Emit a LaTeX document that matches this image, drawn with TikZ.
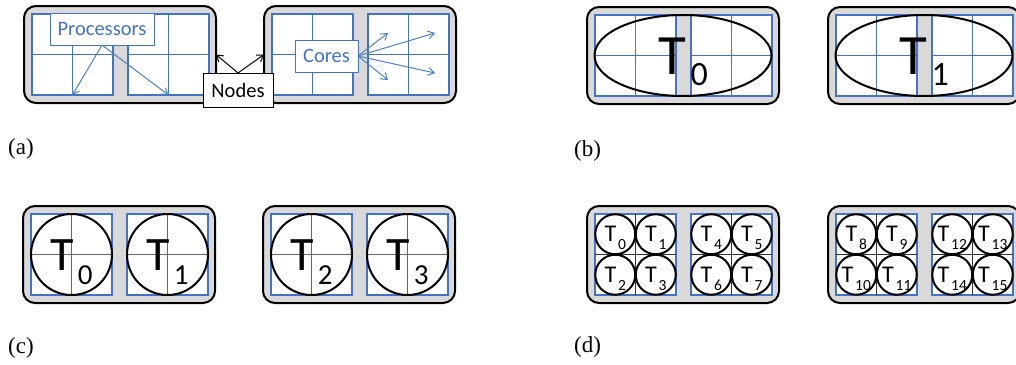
\documentclass[tikz,border=0pt]{standalone}
\usepackage{fontspec}
\setmainfont{Liberation Serif}
\newfontfamily\calibri{Carlito}
\usetikzlibrary{arrows.meta,shapes.geometric}

\definecolor{procblue}{RGB}{68,114,196}
\definecolor{arrowblue}{RGB}{79,129,189}
\definecolor{nodegray}{RGB}{217,217,217}

\tikzset{%
  >={Straight Barb[length=6pt,width=8pt]},
      nodebox/.style = {rectangle, rounded corners=12pt, draw=black, line width=2pt,
                        fill=nodegray, minimum width=192pt, minimum height=97pt,
                        inner sep=0pt, outer sep=0pt, anchor=north west},
      procbox/.style = {rectangle, draw=procblue, fill=white, line width=2pt,
                        minimum size=81pt, inner sep=0pt, outer sep=0pt, anchor=north west},
         grid/.style = {line width=1pt},
       thread/.style = {circle, draw=black, line width=2pt, inner sep=0pt, outer sep=0pt},
       tlabel/.style = {inner sep=0pt, font=\calibri},
          tag/.style = {rectangle, fill=white, line width=1pt, inner sep=0pt, outer sep=0pt,
                        font={\calibri\fontsize{20.5}{20.5}\selectfont}},
      pointer/.style = {line width=1pt, draw=arrowblue},
      caption/.style = {inner sep=0pt, anchor=base west, font={\fontsize{23}{23}\selectfont}},
}

% one cluster node: rounded box with two processors of 2x2 cores
\newcommand{\cluster}[4]{%
  \node (#1)   [nodebox] at (#2,#3) {};
  \node (#1p1) [procbox] at ([xshift=8pt,yshift=-8pt]#1.north west) {};
  \node (#1p2) [procbox] at ([xshift=104pt,yshift=-8pt]#1.north west) {};
  \foreach \p in {#1p1,#1p2} {
    \draw[grid, #4] (\p.north) -- (\p.south);
    \draw[grid, #4] (\p.west) -- (\p.east);
  }%
}

% T with a lowered index: T size, index size, drop, index
\newcommand{\thr}[4]{{\fontsize{#1}{#1}\selectfont T\kern.08em\raisebox{-#3}{\fontsize{#2}{#2}\selectfont #4}}}

\begin{document}
\begin{tikzpicture}[x=1pt, y=-1pt]
  \clip (0,0) rectangle (1016,364);

  % (a)
  \cluster{a1}{24}{6}{procblue}
  \cluster{a2}{264}{6}{procblue}

  \node (lblproc)  [tag, draw=procblue, text=procblue, minimum width=104pt, minimum height=32pt]
                   at (102,29) {Processors};
  \node (lblcores) [tag, draw=procblue, text=procblue, minimum width=63pt, minimum height=32pt]
                   at (326.5,56) {Cores};
  \node (lblnodes) [tag, draw=black, minimum width=70pt, minimum height=34pt]
                   at (238,90) {Nodes};

  \coordinate (core1) at (388,33);
  \coordinate (core2) at (435,33);
  \coordinate (core3) at (388,80);
  \coordinate (core4) at (435,73);

  \draw[->, pointer] (lblproc.south) -- (a1p1.south);
  \draw[->, pointer] (lblproc.south) -- (a1p2.south);
  \foreach \c in {core1,core2,core3,core4}
    \draw[->, pointer] (lblcores.east) -- (\c);
  \draw[->, line width=1pt] (lblnodes.north) -- (a1.east);
  \draw[->, line width=1pt] (lblnodes.north) -- (a2.west);

  \node (capa) [caption] at (8,154) {(a)};

  % (b)
  \cluster{b1}{587}{7}{procblue}
  \cluster{b2}{828}{7}{procblue}
  \foreach \b/\n in {b1/0, b2/1} {
    \node (bt\n)  [ellipse, draw=black, line width=2pt, inner sep=0pt,
                   minimum width=177pt, minimum height=81pt] at (\b.center) {};
    \node (btl\n) [tlabel, yshift=-6.5pt] at (bt\n) {\thr{57}{34}{11pt}{\n}};
  }

  \node (capb) [caption] at (574,156) {(b)};

  % (c)
  \cluster{c1}{23}{206}{black!60}
  \cluster{c2}{263}{206}{black!60}
  \foreach \p/\n in {c1p1/0, c1p2/1, c2p1/2, c2p2/3} {
    \node (ct\n)  [thread, minimum size=81pt] at (\p.center) {};
    \node (ctl\n) [tlabel, yshift=-8pt] at (ct\n) {\thr{48}{29}{14pt}{\n}};
  }

  \node (capc) [caption] at (8,353) {(c)};

  % (d)
  \cluster{d1}{587}{206}{black!80}
  \cluster{d2}{828}{206}{black!80}
  \foreach \p/\a/\b/\c/\d in {d1p1/0/1/2/3, d1p2/4/5/6/7, d2p1/8/9/10/11, d2p2/12/13/14/15} {
    \foreach \n/\dx/\dy in {\a/-1/1, \b/1/1, \c/-1/-1, \d/1/-1} {
      \node (dt\n)  [thread, minimum size=40pt]
                    at ([xshift=\dx*20.25pt, yshift=\dy*20.25pt]\p.center) {};
      \node (dtl\n) [tlabel, yshift=-4pt] at (dt\n) {\thr{24}{15.5}{8pt}{\n}};
    }
  }

  \node (capd) [caption] at (574,352) {(d)};

\end{tikzpicture}
\end{document}
